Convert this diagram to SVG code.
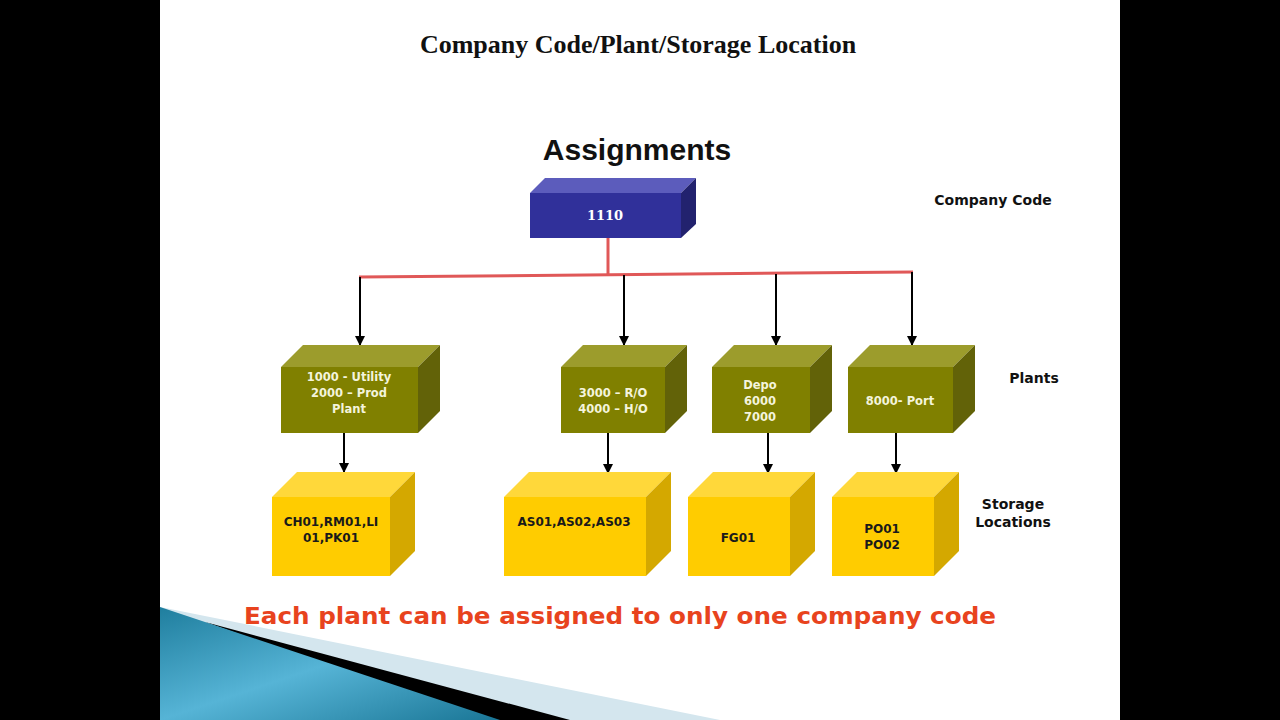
<svg xmlns="http://www.w3.org/2000/svg" width="1280" height="720" viewBox="0 0 1280 720">
<defs>
<style>
.title{font-family:"Liberation Serif",serif;font-weight:bold;font-size:26px;fill:#111}
.head{font-family:"Liberation Sans",Arial,sans-serif;font-weight:bold;font-size:30px;fill:#111}
.side{font-family:"DejaVu Sans",Verdana,sans-serif;font-weight:bold;font-size:14px;fill:#111}
.pt{font-family:"DejaVu Sans",Verdana,sans-serif;font-weight:bold;font-size:11.5px;fill:#F4F4DC}
.st{font-family:"DejaVu Sans",Verdana,sans-serif;font-weight:bold;font-size:12px;fill:#1a1a1a}
.cc{font-family:"DejaVu Serif",serif;font-weight:bold;font-size:13px;fill:#fff}
.of{fill:#808000}.ot{fill:#9C9C2C}.or{fill:#626208}
.yf{fill:#FFCC00}.yt{fill:#FFD83A}.yr{fill:#D4A800}
.arr{stroke:#000;stroke-width:2;fill:none;marker-end:url(#ah)}
.red{stroke:#E05858;stroke-width:3;fill:none}
</style>
<marker id="ah" viewBox="0 0 10 10" refX="9" refY="5" markerWidth="5" markerHeight="5" orient="auto" markerUnits="strokeWidth">
<path d="M0,0 L10,5 L0,10 z" fill="#000"/>
</marker>
<linearGradient id="bg" x1="0" y1="0" x2="1" y2="1">
<stop offset="0" stop-color="#1F7E9E"/>
<stop offset="0.5" stop-color="#56B4D6"/>
<stop offset="1" stop-color="#1A7696"/>
</linearGradient>
</defs>
<rect x="0" y="0" width="1280" height="720" fill="#000"/>
<rect x="160" y="0" width="960" height="720" fill="#fff"/>

<g id="decor">
<polygon points="160,607 720,720 160,720" fill="#D4E6EE"/>
<polygon points="205,622 570,720 480,720" fill="#000"/>
<polygon points="160,607 500,720 160,720" fill="url(#bg)"/>
</g>

<text class="title" x="638" y="53" text-anchor="middle">Company Code/Plant/Storage Location</text>
<text class="head" x="637" y="160" text-anchor="middle">Assignments</text>

<text class="side" x="993" y="205" text-anchor="middle">Company Code</text>
<text class="side" x="1034" y="383" text-anchor="middle">Plants</text>
<text class="side" x="1013" y="509" text-anchor="middle">Storage</text>
<text class="side" x="1013" y="527" text-anchor="middle">Locations</text>

<g id="connectors">
<line class="red" x1="608" y1="238" x2="608" y2="275"/>
<line class="red" x1="359" y1="277" x2="913" y2="272"/>
<line class="arr" x1="360" y1="277" x2="360" y2="345"/>
<line class="arr" x1="624" y1="275" x2="624" y2="345"/>
<line class="arr" x1="776" y1="274" x2="776" y2="345"/>
<line class="arr" x1="912" y1="272" x2="912" y2="345"/>
<line class="arr" x1="344" y1="433" x2="344" y2="472"/>
<line class="arr" x1="608" y1="433" x2="608" y2="473"/>
<line class="arr" x1="768" y1="433" x2="768" y2="473"/>
<line class="arr" x1="896" y1="433" x2="896" y2="473"/>
</g>

<g id="cc1110">
<polygon points="530,193 545,178 696,178 681,193" fill="#5C5CBC"/>
<polygon points="681,193 696,178 696,224 681,238" fill="#22226E"/>
<rect x="530" y="193" width="151" height="45" fill="#30309A"/>
<text class="cc" x="605" y="220" text-anchor="middle">1110</text>
</g>

<g id="plant1">
<polygon class="ot" points="281,367 303,345 440,345 418,367"/>
<polygon class="or" points="418,367 440,345 440,411 418,433"/>
<rect class="of" x="281" y="367" width="137" height="66"/>
<text class="pt" x="349" y="381" text-anchor="middle">1000 - Utility</text>
<text class="pt" x="349" y="397" text-anchor="middle">2000 – Prod</text>
<text class="pt" x="349" y="413" text-anchor="middle">Plant</text>
</g>
<g id="plant2">
<polygon class="ot" points="561,367 583,345 687,345 665,367"/>
<polygon class="or" points="665,367 687,345 687,411 665,433"/>
<rect class="of" x="561" y="367" width="104" height="66"/>
<text class="pt" x="613" y="397" text-anchor="middle">3000 – R/O</text>
<text class="pt" x="613" y="413" text-anchor="middle">4000 – H/O</text>
</g>
<g id="plant3">
<polygon class="ot" points="712,367 734,345 832,345 810,367"/>
<polygon class="or" points="810,367 832,345 832,411 810,433"/>
<rect class="of" x="712" y="367" width="98" height="66"/>
<text class="pt" x="760" y="389" text-anchor="middle">Depo</text>
<text class="pt" x="760" y="405" text-anchor="middle">6000</text>
<text class="pt" x="760" y="421" text-anchor="middle">7000</text>
</g>
<g id="plant4">
<polygon class="ot" points="848,367 870,345 975,345 953,367"/>
<polygon class="or" points="953,367 975,345 975,411 953,433"/>
<rect class="of" x="848" y="367" width="105" height="66"/>
<text class="pt" x="900" y="405" text-anchor="middle">8000- Port</text>
</g>

<g id="sl1">
<polygon class="yt" points="272,497 297,472 415,472 390,497"/>
<polygon class="yr" points="390,497 415,472 415,551 390,576"/>
<rect class="yf" x="272" y="497" width="118" height="79"/>
<text class="st" x="331" y="526" text-anchor="middle">CH01,RM01,LI</text>
<text class="st" x="331" y="542" text-anchor="middle">01,PK01</text>
</g>
<g id="sl2">
<polygon class="yt" points="504,497 529,472 671,472 646,497"/>
<polygon class="yr" points="646,497 671,472 671,551 646,576"/>
<rect class="yf" x="504" y="497" width="142" height="79"/>
<text class="st" x="574" y="526" text-anchor="middle">AS01,AS02,AS03</text>
</g>
<g id="sl3">
<polygon class="yt" points="688,497 713,472 815,472 790,497"/>
<polygon class="yr" points="790,497 815,472 815,551 790,576"/>
<rect class="yf" x="688" y="497" width="102" height="79"/>
<text class="st" x="738" y="542" text-anchor="middle">FG01</text>
</g>
<g id="sl4">
<polygon class="yt" points="832,497 857,472 959,472 934,497"/>
<polygon class="yr" points="934,497 959,472 959,551 934,576"/>
<rect class="yf" x="832" y="497" width="102" height="79"/>
<text class="st" x="882" y="533" text-anchor="middle">PO01</text>
<text class="st" x="882" y="549" text-anchor="middle">PO02</text>
</g>

<text x="244" y="624" font-family="DejaVu Sans,Verdana,sans-serif" font-weight="bold" font-size="23" fill="#E8431E" textLength="752" lengthAdjust="spacingAndGlyphs">Each plant can be assigned to only one company code</text>
</svg>
